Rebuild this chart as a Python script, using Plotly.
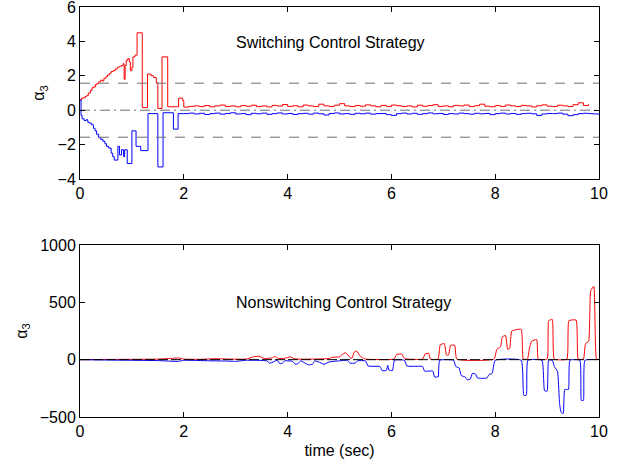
import plotly.graph_objects as go
import math

# ---------------- Top panel (switching) ----------------
sw_red_t = [0, 0.03, 0.06, 0.1, 0.13, 0.16, 0.2, 0.23, 0.26, 0.3, 0.33, 0.36, 0.4, 0.43, 0.46, 0.5,
            0.53, 0.57, 0.6, 0.64, 0.68, 0.72, 0.76, 0.8, 0.83, 0.85, 0.87, 0.89, 0.92, 0.95, 0.97,
            1.0, 1.02, 1.06, 1.1, 1.2, 1.3, 1.37, 1.42, 1.47, 1.5, 1.58, 1.69, 1.9, 1.98,
            2.0, 2.1, 2.2, 2.3, 2.4, 2.5, 2.6, 2.7, 2.8, 2.9, 3.0, 3.1, 3.2, 3.3, 3.4, 3.5, 3.6, 3.7,
            3.8, 3.9, 4.0, 4.1, 4.2, 4.3, 4.4, 4.5, 4.6, 4.7, 4.8, 4.9, 5.0, 5.1, 5.2, 5.3, 5.4, 5.5,
            5.6, 5.7, 5.8, 5.9, 6.0, 6.1, 6.2, 6.3, 6.4, 6.5, 6.6, 6.7, 6.8, 6.9, 7.0, 7.1, 7.2, 7.3,
            7.4, 7.5, 7.6, 7.7, 7.8, 7.9, 8.0, 8.1, 8.2, 8.3, 8.4, 8.5, 8.6, 8.7, 8.8, 8.9, 9.0, 9.1,
            9.2, 9.3, 9.4, 9.5, 9.6, 9.7, 9.8, 9.9, 10.0]
sw_red_v = [0.6, 0.7, 0.72, 0.8, 0.85, 1.0, 1.15, 1.3, 1.35, 1.5, 1.55, 1.65, 1.75, 1.7, 1.85, 1.95,
            2.05, 2.15, 2.25, 2.3, 2.4, 2.5, 2.55, 2.6, 2.7, 1.8, 2.6, 2.9, 3.0, 2.8, 2.3,
            2.5, 3.1, 3.2, 4.5, 0.15, 2.1, 2.0, 1.9, 1.6, 0.1, 3.1, 0.2, 0.7, 0.55,
            0.18, 0.22, 0.25, 0.21, 0.27, 0.2, 0.25, 0.3, 0.22, 0.25, 0.2, 0.27, 0.23, 0.29, 0.21, 0.25,
            0.19, 0.28, 0.24, 0.33, 0.22, 0.26, 0.2, 0.3, 0.25, 0.21, 0.35, 0.25, 0.22, 0.29, 0.38, 0.25,
            0.21, 0.27, 0.23, 0.31, 0.25, 0.2, 0.28, 0.22, 0.3, 0.26, 0.21, 0.25, 0.19, 0.29, 0.23, 0.27,
            0.32, 0.22, 0.25, 0.2, 0.28, 0.25, 0.3, 0.21, 0.26, 0.35, 0.23, 0.2, 0.27, 0.22, 0.3, 0.25,
            0.21, 0.28, 0.25, 0.19, 0.26, 0.31, 0.23, 0.21, 0.29, 0.25, 0.22, 0.32, 0.43, 0.27, 0.35]

sw_blue_t = [0, 0.02, 0.04, 0.08, 0.12, 0.15, 0.18, 0.22, 0.26, 0.29, 0.32, 0.36, 0.4, 0.44, 0.48,
             0.51, 0.55, 0.6, 0.63, 0.66, 0.73, 0.76, 0.8, 0.84, 0.86, 0.91, 1.0, 1.08, 1.17, 1.31,
             1.5, 1.6, 1.8, 1.89,
             2.0, 2.1, 2.2, 2.3, 2.4, 2.5, 2.6, 2.7, 2.8, 2.9, 3.0, 3.1, 3.2, 3.3, 3.4, 3.5, 3.6, 3.7,
             3.8, 3.9, 4.0, 4.1, 4.2, 4.3, 4.4, 4.5, 4.6, 4.7, 4.8, 4.9, 5.0, 5.1, 5.2, 5.3, 5.4, 5.5,
             5.6, 5.7, 5.8, 5.9, 6.0, 6.1, 6.2, 6.3, 6.4, 6.5, 6.6, 6.7, 6.8, 6.9, 7.0, 7.1, 7.2, 7.3,
             7.4, 7.5, 7.6, 7.7, 7.8, 7.9, 8.0, 8.1, 8.2, 8.3, 8.4, 8.5, 8.6, 8.7, 8.8, 8.9, 9.0, 9.1,
             9.2, 9.3, 9.4, 9.5, 9.6, 9.7, 9.8, 9.9, 10.0]
sw_blue_v = [0.6, -0.3, -0.5, -0.6, -0.55, -0.7, -0.75, -0.85, -1.05, -1.2, -1.4, -1.6, -1.7, -1.8, -1.95,
             -2.1, -2.2, -2.5, -2.7, -2.9, -2.1, -2.6, -2.3, -2.7, -2.3, -3.1, -1.2, -2.1, -2.35, -0.2,
             -3.3, -0.15, -1.1, -0.2,
             -0.2, -0.17, -0.22, -0.18, -0.25, -0.2, -0.17, -0.23, -0.19, -0.15, -0.22, -0.2, -0.26, -0.18,
             -0.21, -0.17, -0.24, -0.2, -0.16, -0.22, -0.19, -0.25, -0.2, -0.18, -0.23, -0.17, -0.21, -0.28,
             -0.19, -0.16, -0.22, -0.2, -0.24, -0.18, -0.21, -0.17, -0.23, -0.2, -0.19, -0.26, -0.3, -0.2,
             -0.17, -0.22, -0.18, -0.24, -0.2, -0.16, -0.21, -0.19, -0.25, -0.2, -0.22, -0.17, -0.2,
             -0.23, -0.18, -0.21, -0.19, -0.26, -0.2, -0.17, -0.22, -0.19, -0.24, -0.2, -0.18, -0.21,
             -0.3, -0.22, -0.19, -0.2, -0.17, -0.23, -0.32, -0.26, -0.2, -0.18, -0.2, -0.22, -0.25]

# ---------------- Bottom panel (nonswitching) ----------------
ns_red_t = [0, 0.5, 1.0, 1.5, 1.8, 1.9, 2.0, 2.3, 2.6, 2.9, 3.2, 3.35, 3.45, 3.55, 3.7, 3.76, 3.82,
            3.95, 4.05, 4.12, 4.2, 4.5, 4.8, 4.85, 5.0, 5.08, 5.12, 5.2, 5.24, 5.28, 5.33, 5.4, 5.45,
            5.5, 6.05, 6.1, 6.2, 6.25, 6.6, 6.65, 6.72, 6.75, 6.9, 6.94, 7.02, 7.06, 7.1, 7.14, 7.22,
            7.26, 7.98, 8.03, 8.1, 8.14, 8.2, 8.24, 8.28, 8.32, 8.5, 8.54, 8.62, 8.66, 8.7, 8.8, 8.83,
            9.0, 9.03, 9.1, 9.14, 9.38, 9.42, 9.56, 9.6, 9.7, 9.74, 9.8, 9.84, 9.9, 9.95, 10.0]
ns_red_v = [0, 2, 3, 5, 12, 15, 5, 3, 8, 5, 5, 25, 30, 10, 15, 28, 10,
            12, 25, 10, 5, 5, 10, 20, 25, 55, 60, 20, 10, 65, 75, 30, 15,
            5, 5, 45, 50, 10, 5, 50, 55, 5, 5, 130, 140, 40, 40, 125, 125,
            5, 5, 90, 110, 200, 210, 90, 100, 250, 265, 5, 5, 100, 160, 175, 5,
            5, 340, 350, 5, 5, 340, 345, 5, 5, 140, 160, 600, 640, 10, 0]

ns_blue_t = [0, 0.5, 1.0, 1.5, 1.9, 2.0, 2.5, 2.8, 3.0, 3.2, 3.6, 3.65, 3.7, 3.8, 3.85, 3.9, 3.95,
             4.1, 4.15, 4.2, 4.25, 4.3, 4.4, 4.48, 4.52, 4.6, 4.7, 4.8, 5.0, 5.15, 5.2, 5.3, 5.35, 5.5,
             5.55, 5.78, 5.82, 5.9, 5.93, 5.95, 6.02, 6.06, 6.25, 6.3, 6.6, 6.64, 6.8, 6.83, 6.9, 6.93,
             7.2, 7.24, 7.3, 7.35, 7.42, 7.46, 7.52, 7.56, 7.62, 7.66, 7.84, 7.88, 7.94, 8.0, 8.5, 8.55,
             8.6, 8.63, 8.9, 8.95, 9.0, 9.03, 9.1, 9.14, 9.2, 9.24, 9.27, 9.31, 9.34, 9.41, 9.44, 9.63,
             9.66, 9.7, 9.73, 10.0]
ns_blue_v = [0, -3, -5, -8, -15, -5, -10, -12, -15, -5, -10, -30, -25, -5, -35, -30, -10,
             -15, -40, -35, -10, -20, -45, -40, -10, -20, -40, -20, -10, -5, -30, -30, -10, -10,
             -55, -60, -95, -95, -50, -90, -95, -5, -5, -55, -60, -100, -100, -150, -150, -5,
             -5, -60, -70, -140, -150, -175, -170, -120, -125, -160, -160, -130, -120, -5, -5, -310,
             -310, -5, -5, -270, -275, -5, -5, -60, -100, -380, -460, -470, -260, -260, -5, -5,
             -355, -355, -5, 0]

top_yticks = [-4, -2, 0, 2, 4, 6]
bot_yticks = [-500, 0, 500, 1000]
x_ticks = [0, 2, 4, 6, 8, 10]
limit = math.pi / 2

FONT = "Liberation Sans, Arial, Helvetica, sans-serif"
FS = 16

fig = go.Figure()
fig.add_trace(go.Scatter(x=sw_red_t, y=sw_red_v, mode="lines", line=dict(color="#ff0000", width=1, shape="hv"),
                         xaxis="x", yaxis="y", showlegend=False))
fig.add_trace(go.Scatter(x=sw_blue_t, y=sw_blue_v, mode="lines", line=dict(color="#0000ff", width=1, shape="hv"),
                         xaxis="x", yaxis="y", showlegend=False))
fig.add_trace(go.Scatter(x=ns_red_t, y=ns_red_v, mode="lines", line=dict(color="#ff0000", width=1, shape="spline", smoothing=0.4),
                         xaxis="x2", yaxis="y2", showlegend=False))
fig.add_trace(go.Scatter(x=ns_blue_t, y=ns_blue_v, mode="lines", line=dict(color="#0000ff", width=1, shape="spline", smoothing=0.4),
                         xaxis="x2", yaxis="y2", showlegend=False))

# reference lines
GREY = "#6e6e6e"
fig.add_trace(go.Scatter(x=[0, 10], y=[limit, limit], mode="lines", line=dict(color=GREY, width=1, dash="10px,9px"),
                         xaxis="x", yaxis="y", showlegend=False))
fig.add_trace(go.Scatter(x=[0, 10], y=[-limit, -limit], mode="lines", line=dict(color=GREY, width=1, dash="10px,9px"),
                         xaxis="x", yaxis="y", showlegend=False))
fig.add_trace(go.Scatter(x=[0, 10], y=[0, 0], mode="lines", line=dict(color=GREY, width=1, dash="10px,4px,2px,4px"),
                         xaxis="x", yaxis="y", showlegend=False))
fig.add_trace(go.Scatter(x=[0, 10], y=[0, 0], mode="lines", line=dict(color="#000000", width=1, dash="10px,3px"),
                         xaxis="x2", yaxis="y2", showlegend=False))

ax_common = dict(showline=True, linecolor="black", linewidth=1, mirror="ticks", ticks="inside",
                 ticklen=5, tickcolor="black", showgrid=False, zeroline=False, automargin=False,
                 ticklabeloverflow="allow",
                 tickfont=dict(family=FONT, size=FS, color="black"))

fig.update_layout(
    width=628, height=465,
    margin=dict(l=80, r=29, t=7, b=48),
    paper_bgcolor="white", plot_bgcolor="white",
    font=dict(family=FONT, size=FS, color="black"),
    xaxis=dict(domain=[0, 1], range=[0, 10], tickvals=x_ticks, anchor="y", **ax_common),
    yaxis=dict(domain=[0.5805, 1], range=[-4, 6], tickvals=top_yticks, anchor="x",
               title=dict(text="α<sub>3</sub>", standoff=8, font=dict(family=FONT, size=FS)), **ax_common),
    xaxis2=dict(domain=[0, 1], range=[0, 10], tickvals=x_ticks, anchor="y2",
                title=dict(text="time (sec)", standoff=5, font=dict(family=FONT, size=FS)), **ax_common),
    yaxis2=dict(domain=[0, 0.4195], range=[-500, 1000], tickvals=bot_yticks, anchor="x2",
                title=dict(text="α<sub>3</sub>", standoff=8, font=dict(family=FONT, size=FS)), **ax_common),
    annotations=[
        dict(text="Switching Control Strategy", x=4.82, y=3.92, xref="x", yref="y", showarrow=False,
             font=dict(family=FONT, size=FS, color="black")),
        dict(text="Nonswitching Control Strategy", x=5.08, y=497, xref="x2", yref="y2", showarrow=False,
             font=dict(family=FONT, size=FS, color="black")),
    ],
)

fig.write_html("out.html")
